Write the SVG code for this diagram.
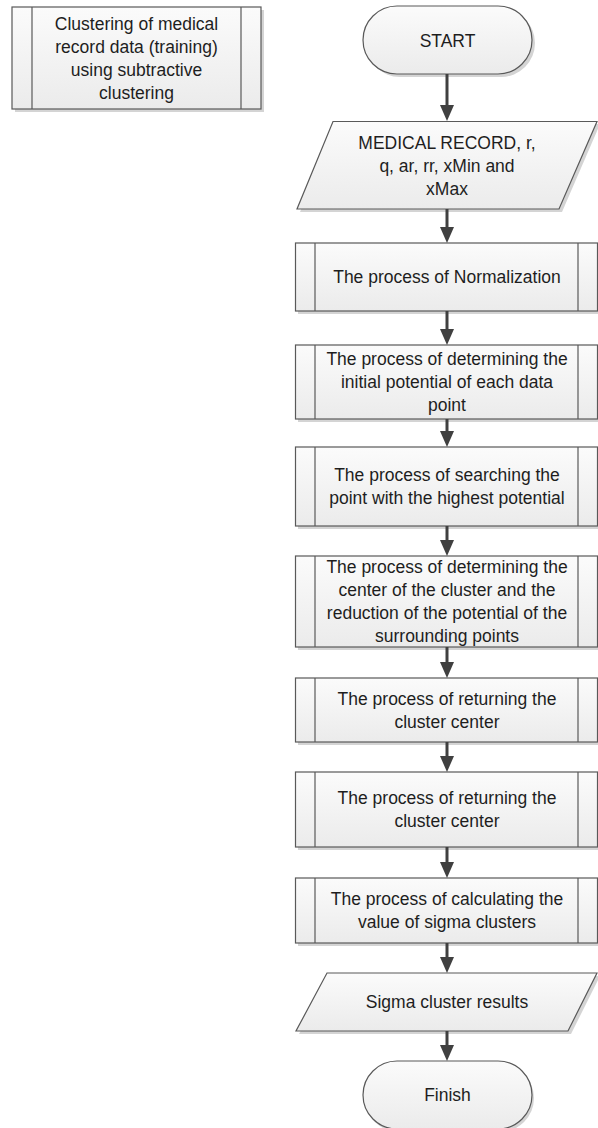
<svg xmlns="http://www.w3.org/2000/svg" width="598" height="1128" viewBox="0 0 598 1128">
<defs>
<linearGradient id="fillg" x1="0" y1="0" x2="0" y2="1">
<stop offset="0" stop-color="#fbfbfb"/>
<stop offset="1" stop-color="#ebebeb"/>
</linearGradient>
<marker id="arr" viewBox="0 0 16 14" refX="8" refY="7" markerWidth="16" markerHeight="14" markerUnits="userSpaceOnUse" orient="auto">
<path d="M0,0 L16,7 L0,14 z" fill="#404040"/>
</marker>
</defs>
<style>
.shape{fill:url(#fillg);stroke:#595959;stroke-width:1.2}
.shadow{fill:#d4d4d4;stroke:none}
.inner{stroke:#595959;stroke-width:1.2;fill:none}
.conn{stroke:#404040;stroke-width:3;fill:none;marker-end:url(#arr)}
text{font-family:"Liberation Sans",Arial,sans-serif;font-size:17.5px;fill:#1e1e1e;text-anchor:middle}
</style>
<rect width="598" height="1128" fill="#ffffff"/>

<g id="subprocess-title">
<rect class="shadow" x="15" y="10" width="249" height="102"/>
<rect class="shape" x="12" y="7" width="249" height="102"/>
<line class="inner" x1="32" y1="7" x2="32" y2="109"/>
<line class="inner" x1="241" y1="7" x2="241" y2="109"/>
<text x="136.5" y="30">Clustering of medical</text>
<text x="136.5" y="53">record data (training)</text>
<text x="136.5" y="76">using subtractive</text>
<text x="136.5" y="99">clustering</text>
</g>

<g id="start">
<rect class="shadow" x="366" y="9" width="169" height="68" rx="34"/>
<rect class="shape" x="363" y="6" width="169" height="68" rx="34"/>
<text x="447.5" y="47">START</text>
</g>

<g id="input-medical-record">
<polygon class="shadow" points="336,124 600,124 562,212 300,212"/>
<polygon class="shape" points="333,121.5 597,121.5 559,209 297,209"/>
<text x="447" y="149">MEDICAL RECORD, r,</text>
<text x="447" y="172">q, ar, rr, xMin and</text>
<text x="447" y="195">xMax</text>
</g>

<g id="normalization">
<rect class="shadow" x="298" y="246" width="302" height="68"/>
<rect class="shape" x="295.5" y="243" width="302" height="68"/>
<line class="inner" x1="315" y1="243" x2="315" y2="311"/>
<line class="inner" x1="578" y1="243" x2="578" y2="311"/>
<text x="447" y="283">The process of Normalization</text>
</g>

<g id="initial-potential">
<rect class="shadow" x="298" y="348" width="302" height="74"/>
<rect class="shape" x="295.5" y="345" width="302" height="74"/>
<line class="inner" x1="315" y1="345" x2="315" y2="419"/>
<line class="inner" x1="578" y1="345" x2="578" y2="419"/>
<text x="447" y="365">The process of determining the</text>
<text x="447" y="388">initial potential of each data</text>
<text x="447" y="411">point</text>
</g>

<g id="highest-potential">
<rect class="shadow" x="298" y="450" width="302" height="79"/>
<rect class="shape" x="295.5" y="447" width="302" height="79"/>
<line class="inner" x1="315" y1="447" x2="315" y2="526"/>
<line class="inner" x1="578" y1="447" x2="578" y2="526"/>
<text x="447" y="481">The process of searching the</text>
<text x="447" y="504">point with the highest potential</text>
</g>

<g id="cluster-center-reduction">
<rect class="shadow" x="298" y="559" width="302" height="91"/>
<rect class="shape" x="295.5" y="556" width="302" height="91"/>
<line class="inner" x1="315" y1="556" x2="315" y2="647"/>
<line class="inner" x1="578" y1="556" x2="578" y2="647"/>
<text x="447" y="573">The process of determining the</text>
<text x="447" y="596">center of the cluster and the</text>
<text x="447" y="619">reduction of the potential of the</text>
<text x="447" y="642">surrounding points</text>
</g>

<g id="returning-center-1">
<rect class="shadow" x="298" y="681" width="302" height="64"/>
<rect class="shape" x="295.5" y="678" width="302" height="64"/>
<line class="inner" x1="315" y1="678" x2="315" y2="742"/>
<line class="inner" x1="578" y1="678" x2="578" y2="742"/>
<text x="447" y="705">The process of returning the</text>
<text x="447" y="728">cluster center</text>
</g>

<g id="returning-center-2">
<rect class="shadow" x="298" y="775" width="302" height="75"/>
<rect class="shape" x="295.5" y="772" width="302" height="75"/>
<line class="inner" x1="315" y1="772" x2="315" y2="847"/>
<line class="inner" x1="578" y1="772" x2="578" y2="847"/>
<text x="447" y="804">The process of returning the</text>
<text x="447" y="827">cluster center</text>
</g>

<g id="sigma-calculation">
<rect class="shadow" x="298" y="881" width="302" height="65"/>
<rect class="shape" x="295.5" y="878" width="302" height="65"/>
<line class="inner" x1="315" y1="878" x2="315" y2="943"/>
<line class="inner" x1="578" y1="878" x2="578" y2="943"/>
<text x="447" y="905">The process of calculating the</text>
<text x="447" y="928">value of sigma clusters</text>
</g>

<g id="output-sigma">
<polygon class="shadow" points="330,976 600,976 571,1034 299,1034"/>
<polygon class="shape" points="327,973 597,973 568,1031 296,1031"/>
<text x="447" y="1008">Sigma cluster results</text>
</g>

<g id="finish">
<rect class="shadow" x="365" y="1064" width="169" height="68" rx="34"/>
<rect class="shape" x="363" y="1061" width="169" height="68" rx="34"/>
<text x="447.5" y="1101">Finish</text>
</g>

<g id="connectors">
<line class="conn" x1="447" y1="74" x2="447" y2="113"/>
<line class="conn" x1="447" y1="209" x2="447" y2="235"/>
<line class="conn" x1="447" y1="311" x2="447" y2="337"/>
<line class="conn" x1="447" y1="419" x2="447" y2="439"/>
<line class="conn" x1="447" y1="526" x2="447" y2="548"/>
<line class="conn" x1="447" y1="647" x2="447" y2="670"/>
<line class="conn" x1="447" y1="742" x2="447" y2="764"/>
<line class="conn" x1="447" y1="847" x2="447" y2="870"/>
<line class="conn" x1="447" y1="943" x2="447" y2="965"/>
<line class="conn" x1="447" y1="1031" x2="447" y2="1053"/>
</g>
</svg>
